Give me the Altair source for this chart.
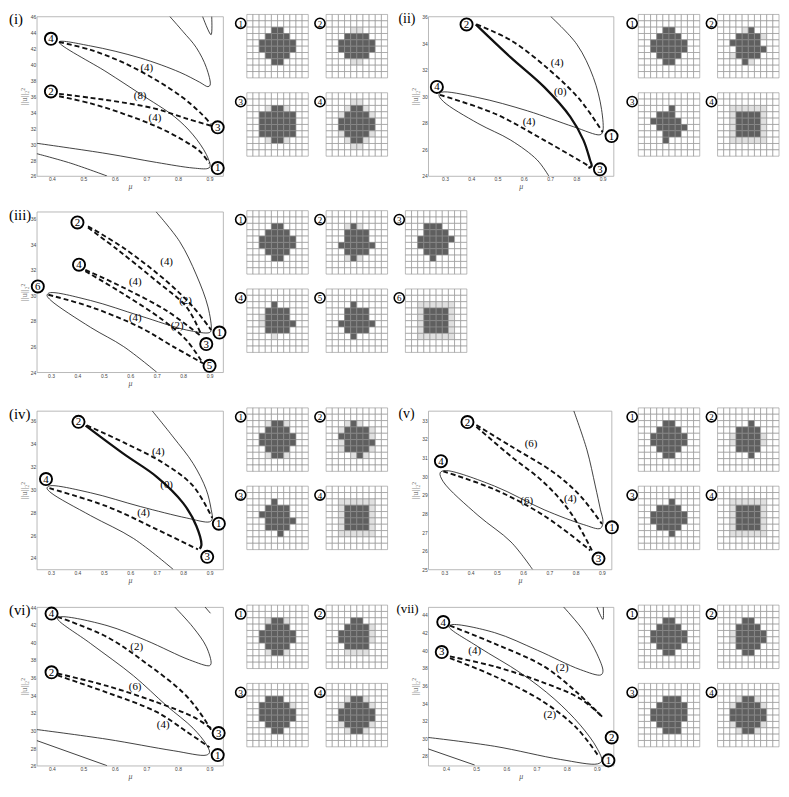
import altair as alt
import pandas as pd

# ------------------------------------------------------------------ data
# panel (i)
I_XDOM = [0.352, 0.943]
I_YDOM = [26, 46]
I_XT = [0.4, 0.5, 0.6, 0.7, 0.8, 0.9]
I_YT = [26, 28, 30, 32, 34, 36, 38, 40, 42, 44, 46]
I_S1 = [(0.774, 46), (0.816, 44.1), (0.858, 42.1), (0.89, 39.6), (0.902, 37.4), (0.895, 37.2),
        (0.869, 37.75), (0.806, 39.0), (0.68, 40.8), (0.523, 42.3), (0.423, 42.8), (0.575, 39.0),
        (0.68, 36.3), (0.79, 33.4), (0.848, 31.15), (0.89, 28.7), (0.902, 27.2), (0.895, 26.95),
        (0.848, 27.0), (0.732, 27.7), (0.575, 28.8), (0.352, 30.1)]
I_S2 = [(0.878, 46), (0.905, 43.7), (0.907, 46)]
I_S3 = [(0.352, 28.8), (0.46, 27.6), (0.575, 26)]
I_D1 = [(0.423, 42.8), (0.523, 41.8), (0.627, 40.2), (0.732, 38.0), (0.816, 35.8), (0.869, 34.0), (0.905, 32.5)]
I_D2 = [(0.423, 36.3), (0.523, 35.8), (0.627, 35.2), (0.732, 34.4), (0.827, 33.2), (0.905, 32.3)]
I_D3 = [(0.423, 36.0), (0.523, 35.1), (0.627, 33.8), (0.732, 32.2), (0.816, 30.5), (0.869, 29.1), (0.9, 27.6)]
I_LAB = [("(4)", 0.701, 39.2), ("(8)", 0.68, 35.6), ("(4)", 0.727, 32.9)]
I_NODES = [("1", 0.926, 27.0), ("2", 0.397, 36.6), ("3", 0.926, 32.1), ("4", 0.397, 43.2)]

# panel (ii)
II_XDOM = [0.236, 0.9415]
II_YDOM = [24, 36]
II_XT = [0.3, 0.4, 0.5, 0.6, 0.7, 0.8, 0.9]
II_YT = [24, 26, 28, 30, 32, 34, 36]
II_S1 = [(0.702, 36), (0.802, 33.9), (0.865, 31.4), (0.896, 29.0), (0.9, 27.3), (0.89, 27.1),
         (0.79, 27.7), (0.614, 28.9), (0.425, 29.9), (0.287, 30.3), (0.277, 30.1), (0.294, 29.6),
         (0.425, 27.96), (0.55, 26.7), (0.651, 25.2), (0.695, 24)]
II_B1 = [(0.417, 35.4), (0.551, 32.9), (0.677, 30.7), (0.777, 28.45), (0.827, 26.7), (0.852, 25.2),
         (0.858, 24.75), (0.846, 24.6)]
II_D1 = [(0.42, 35.4), (0.551, 34.2), (0.702, 31.9), (0.815, 29.7), (0.9, 27.3)]
II_D2 = [(0.281, 30.1), (0.488, 28.7), (0.677, 26.7), (0.852, 24.7)]
II_LAB = [("(4)", 0.727, 32.3), ("(0)", 0.739, 30.1), ("(4)", 0.62, 27.8)]
II_NODES = [("1", 0.934, 27.0), ("2", 0.382, 35.4), ("3", 0.89, 24.5), ("4", 0.269, 30.7)]

# panel (iii)
III_XDOM = [0.246, 0.951]
III_YDOM = [24, 36.54]
III_XT = [0.3, 0.4, 0.5, 0.6, 0.7, 0.8, 0.9]
III_YT = [24, 26, 28, 30, 32, 34, 36]
III_S1 = [(0.697, 36.54), (0.787, 34.2), (0.85, 31.6), (0.894, 29.1), (0.906, 27.3), (0.9, 27.1),
          (0.8125, 27.3), (0.6375, 28.4), (0.45, 29.6), (0.294, 30.2), (0.285, 30.0), (0.3, 29.6),
          (0.45, 27.5), (0.575, 26.0), (0.7, 24)]
III_D1 = [(0.44, 35.4), (0.575, 33.7), (0.7375, 31.1), (0.8375, 29.1), (0.906, 27.3)]
III_D2 = [(0.44, 35.3), (0.55, 33.6), (0.7, 31.1), (0.8125, 29.1), (0.869, 26.9)]
III_D3 = [(0.43, 32.0), (0.575, 30.6), (0.7375, 28.8), (0.869, 26.8)]
III_D4 = [(0.43, 31.9), (0.575, 30.1), (0.725, 28.05), (0.8125, 26.5), (0.875, 24.7)]
III_D5 = [(0.29, 30.05), (0.45, 29.1), (0.6375, 27.5), (0.7625, 26.0), (0.875, 24.7)]
III_LAB = [("(4)", 0.7375, 32.4), ("(2)", 0.809, 29.3), ("(4)", 0.619, 30.8), ("(2)", 0.7775, 27.4),
           ("(4)", 0.619, 28.0)]
III_NODES = [("1", 0.9375, 27.1), ("2", 0.4, 35.7), ("3", 0.8875, 26.2), ("4", 0.406, 32.4),
             ("5", 0.9, 24.5), ("6", 0.25, 30.7)]

# panel (iv)
IV_XDOM = [0.246, 0.951]
IV_YDOM = [23, 36.86]
IV_XT = [0.3, 0.4, 0.5, 0.6, 0.7, 0.8, 0.9]
IV_YT = [24, 26, 28, 30, 32, 34, 36]
IV_S1 = [(0.683, 36.86), (0.7625, 34.57), (0.8375, 32.27), (0.8875, 29.97), (0.906, 28.25), (0.91, 27.4),
         (0.9, 27.16), (0.8125, 27.5), (0.6375, 28.5), (0.45, 29.7), (0.294, 30.3), (0.285, 30.1),
         (0.3, 29.7), (0.45, 27.7), (0.6125, 25.7), (0.7625, 23)]
IV_B1 = [(0.431, 35.57), (0.575, 33.1), (0.7, 31.1), (0.8, 28.8), (0.85, 26.8), (0.869, 25.1), (0.8625, 24.8)]
IV_D1 = [(0.435, 35.6), (0.575, 34.1), (0.725, 32.3), (0.8375, 30.3), (0.91, 27.5)]
IV_D2 = [(0.294, 30.1), (0.5125, 28.5), (0.7, 26.5), (0.856, 24.75)]
IV_LAB = [("(4)", 0.706, 33.0), ("(0)", 0.7375, 30.1), ("(4)", 0.65, 27.7)]
IV_NODES = [("1", 0.935, 27.0), ("2", 0.404, 35.9), ("3", 0.891, 24.1), ("4", 0.281, 30.9)]

# panel (v)
V_XDOM = [0.2385, 0.9367]
V_YDOM = [25, 33.5]
V_XT = [0.3, 0.4, 0.5, 0.6, 0.7, 0.8, 0.9]
V_YT = [25, 26, 27, 28, 29, 30, 31, 32, 33]
V_S1 = [(0.793, 33.5), (0.843, 31.41), (0.875, 29.47), (0.894, 28.23), (0.904, 27.53), (0.894, 27.2),
        (0.831, 27.4), (0.68, 28.2), (0.491, 29.47), (0.303, 30.3), (0.284, 30.18), (0.296, 29.7),
        (0.428, 27.9), (0.554, 26.47), (0.636, 25)]
V_D1 = [(0.422, 32.74), (0.554, 31.6), (0.718, 30.18), (0.818, 28.94), (0.9, 27.44)]
V_D2 = [(0.422, 32.65), (0.554, 31.06), (0.68, 29.65), (0.78, 28.06), (0.862, 26.02)]
V_D3 = [(0.296, 30.26), (0.491, 29.29), (0.68, 27.88), (0.856, 26.02)]
V_LAB = [("(6)", 0.63, 31.55), ("(4)", 0.78, 28.59), ("(6)", 0.614, 28.53)]
V_NODES = [("1", 0.938, 27.26), ("2", 0.388, 32.9), ("3", 0.887, 25.58), ("4", 0.287, 30.8)]

# panel (vi)
VI_XDOM = [0.352, 0.943]
VI_YDOM = [26, 44]
VI_XT = [0.4, 0.5, 0.6, 0.7, 0.8, 0.9]
VI_YT = [26, 28, 30, 32, 34, 36, 38, 40, 42, 44]
VI_S1 = [(0.79, 44), (0.848, 41.7), (0.89, 39.5), (0.905, 37.6), (0.9, 37.35), (0.837, 38.0),
         (0.7, 40.2), (0.575, 41.9), (0.428, 42.9), (0.418, 42.7), (0.523, 39.86), (0.659, 36.2),
         (0.764, 32.8), (0.848, 30.25), (0.89, 28.4), (0.9, 27.5), (0.89, 27.2), (0.785, 27.7),
         (0.575, 29.0), (0.352, 30.1)]
VI_S2 = [(0.886, 44.0), (0.903, 43.3)]
VI_S3 = [(0.352, 28.85), (0.575, 26)]
VI_D1 = [(0.418, 42.9), (0.575, 40.6), (0.7, 37.6), (0.816, 34.3), (0.868, 32.1), (0.905, 30.07)]
VI_D2 = [(0.418, 36.46), (0.575, 35.05), (0.732, 33.2), (0.848, 31.54), (0.905, 30.25)]
VI_D3 = [(0.418, 36.24), (0.575, 34.3), (0.732, 32.1), (0.826, 29.9), (0.9, 28.1)]
VI_LAB = [("(2)", 0.669, 39.1), ("(6)", 0.664, 34.6), ("(4)", 0.753, 30.3)]
VI_NODES = [("1", 0.926, 27.2), ("2", 0.399, 36.6), ("3", 0.929, 29.7), ("4", 0.399, 43.26)]

# panel (vii)
VII_XDOM = [0.341, 0.955]
VII_YDOM = [26.9, 44.9]
VII_XT = [0.4, 0.5, 0.6, 0.7, 0.8, 0.9]
VII_YT = [28, 30, 32, 34, 36, 38, 40, 42, 44]
VII_S1 = [(0.79, 44.9), (0.856, 42.2), (0.9, 39.6), (0.92, 37.6), (0.913, 37.2), (0.845, 37.8),
          (0.703, 40.0), (0.561, 42.0), (0.419, 42.9), (0.41, 42.67), (0.506, 40.4), (0.648, 37.4),
          (0.758, 34.5), (0.845, 31.5), (0.9, 28.9), (0.916, 27.45), (0.902, 27.1), (0.78, 27.6),
          (0.561, 29.1), (0.341, 30.1)]
VII_S2 = [(0.9, 44.9), (0.92, 43.5), (0.921, 44.9)]
VII_S3 = [(0.341, 28.8), (0.495, 26.97)]
VII_D1 = [(0.413, 42.8), (0.561, 40.75), (0.725, 38.16), (0.834, 35.2), (0.922, 32.3)]
VII_D2 = [(0.413, 39.3), (0.561, 38.16), (0.725, 36.3), (0.845, 34.5), (0.916, 32.5)]
VII_D3 = [(0.413, 39.1), (0.561, 37.05), (0.725, 34.1), (0.834, 31.14), (0.905, 28.0)]
VII_LAB = [("(2)", 0.785, 37.7), ("(4)", 0.495, 39.6), ("(2)", 0.744, 32.3)]
VII_NODES = [("1", 0.938, 27.5), ("2", 0.949, 30.1), ("3", 0.386, 39.8), ("4", 0.391, 43.2)]

# pixel patterns ('.' empty, 'l' light, 'D' dark)
E = ".........."
OCT = [E, E, "....DD....", "...DDDD...", "..DDDDDD..", "..DDDDDD..", "...DDDD...", "....DD....", E, E]
SQ = [E, E, "..llllll..", "..lDDDDl..", "..lDDDDl..", "..lDDDDl..", "..lDDDDl..", "..llllll..", E, E]
I_G = [OCT,
       [E, E, "....ll....", "...DDDD...", "..DDDDDD..", "..DDDDDD..", "...DDDD...", "....ll....", E, E],
       [E, E, "...lDDl...", "..DDDDDD..", "..DDDDDD..", "..DDDDDD..", "..DDDDDD..", "...lDDl...", E, E],
       [E, "....ll....", "...lDDl...", "..lDDDDl..", "..DDDDDD..", "..DDDDDD..", "..lDDDDl..", "...lDDl...", "....ll....", E]]
II_G = [OCT,
        [E, E, "....lD....", "...DDDDl..", "..DDDDD...", "...DDDDD..", "..lDDDD...", "....Dl....", E, E],
        [E, E, ".....D....", "...DDD....", "..DDDDD...", "...DDDDD..", "....DDD...", "....D.....", E, E],
        SQ]
III_G = [OCT,
         [E, E, "...lDl....", "...DDDD...", "...DDDD...", "..DDDDDD..", "...DDDD...", "...lDl....", E, E],
         [E, E, "...DDD....", "...DDDD...", "..DDDDDD..", "..DDDDD...", "...DDDD...", "....D.....", E, E],
         [E, E, "....D.....", "...DDDD...", "..lDDDD...", "..lDDDDD..", "...DDDD...", "....l.....", E, E],
         [E, E, "....D.....", "...DDDD...", "...DDDD...", "..DDDDDD..", "...DDDD...", "....D.....", E, E],
         SQ]
IV_G = [[E, E, "...lDDl...", "...DDDD...", "..DDDDDD..", "..DDDDDD..", "...DDDD...", "...lDDl...", E, E],
        [E, E, "...lDl....", "..lDDDDl..", "..DDDDDl..", "..lDDDDD..", "..lDDDDl..", "....lDl...", E, E],
        [E, E, "....D.....", "...DDDD...", "..DDDDD...", "...DDDDD..", "...DDDD...", ".....D....", E, E],
        SQ]
V_G = [OCT,
       [E, E, ".....D....", "...DDDD...", "..lDDDDl..", "..lDDDDl..", "...DDDD...", ".....D....", E, E],
       [E, E, ".....D....", "...DDDD...", "..DDDDDD..", "..DDDDDD..", "...DDDD...", ".....D....", E, E],
       SQ]
VI_G = [[E, E, "...lDDl...", "...DDDD...", "..DDDDDD..", "..DDDDDD..", "...DDDD...", "...lDDl...", E, E],
        [E, E, "....DD....", "...DDDDl..", "..DDDDDl..", "..DDDDDl..", "...DDDD...", "...llll...", E, E],
        [E, E, "...DDD....", "..DDDDDl..", "..DDDDDD..", "..DDDDDD..", "...DDDD...", "....DD....", E, E],
        [E, E, "...lDDl...", "..lDDDDl..", "..DDDDDD..", "..DDDDDD..", "..lDDDDl..", "...lDDl...", E, E]]
VII_G = [OCT,
         [E, E, "....DD....", "...DDDD...", "..lDDDDD..", "..lDDDDD..", "...DDDD...", "....DD....", E, E],
         [E, E, "....DDD...", "...DDDDD..", "..DDDDDD..", "..DDDDDD..", "...DDDD...", "....DDD...", E, E],
         [E, E, "...lDDl...", "..lDDDDl..", "..DDDDDD..", "..DDDDDD..", "..lDDDDl..", "...lDDl...", E, E]]

# ------------------------------------------------------------------ layout constants
CW, CH = 6.2, 6.4          # cell size in px
PX, PY = 80 / CW, 79 / CH  # grid period in cells
SERIF = "Liberation Serif"
SANS = "Liberation Sans"


def curve_df(curves):
    rows = []
    for cid, pts in enumerate(curves):
        for i, (m, u) in enumerate(pts):
            rows.append({"c": cid, "i": i, "mu": m, "u": u})
    return pd.DataFrame(rows)


def make_plot(title, tdx, tsize, xdom, ydom, xt, yt, solids, bolds, dashes, labels, nodes, w, h):
    xs = alt.Scale(domain=xdom, nice=False, zero=False)
    ys = alt.Scale(domain=ydom, nice=False, zero=False)
    xax = alt.Axis(values=xt, format=".1f", title="μ", ticks=False, domain=False, grid=False,
                   labelFontSize=5, labelFont=SANS, labelColor="#444", labelPadding=1,
                   titleFont=SERIF, titleFontSize=8, titleFontStyle="italic", titleFontWeight="normal",
                   titleColor="#555", titlePadding=1)
    yax = alt.Axis(values=yt, format="d", title="||u||₂²", ticks=False, domain=False, grid=False,
                   labelFontSize=5, labelFont=SANS, labelColor="#444", labelPadding=1,
                   titleFont=SERIF, titleFontSize=9, titleFontWeight="normal",
                   titleColor="#777", titlePadding=2)
    X = alt.X("mu:Q", scale=xs, axis=xax)
    Y = alt.Y("u:Q", scale=ys, axis=yax)
    layers = []
    for curves, sw, dash in [(solids, 0.8, None), (bolds, 2.3, None), (dashes, 1.9, [5, 3])]:
        if not curves:
            continue
        kw = dict(color="#111111", strokeWidth=sw, interpolate="catmull-rom", clip=True)
        if dash:
            kw["strokeDash"] = dash
        layers.append(alt.Chart(curve_df(curves)).mark_line(**kw).encode(
            x=X, y=Y, detail="c:N", order="i:Q"))
    ldf = pd.DataFrame([{"t": t, "mu": m, "u": u} for t, m, u in labels])
    layers.append(alt.Chart(ldf).mark_text(font=SERIF, fontSize=11, color="black", dy=-3).encode(
        x=X, y=Y, text="t:N"))
    ndf = pd.DataFrame([{"t": t, "mu": m, "u": u} for t, m, u in nodes])
    layers.append(alt.Chart(ndf).mark_circle(size=150, fill="white", stroke="black", strokeWidth=1.9,
                                             opacity=1, fillOpacity=1).encode(x=X, y=Y))
    layers.append(alt.Chart(ndf).mark_text(font=SERIF, fontSize=11, color="black", baseline="middle",
                                           dy=0.5).encode(x=X, y=Y, text="t:N"))
    tdf = pd.DataFrame({"t": [title]})
    layers.append(alt.Chart(tdf).mark_text(font=SERIF, fontSize=tsize, align="left", baseline="top",
                                           color="black").encode(
        x=alt.value(tdx), y=alt.value(-4), text="t:N"))
    return alt.layer(*layers).properties(
        width=w, height=h, view=alt.ViewBackground(stroke="#a6a6a6", strokeWidth=0.8))


def make_grids(patterns, ncols, w, h, left_px, top_px):
    cells, marks = [], []
    for k, pat in enumerate(patterns):
        gc, gr = k % ncols, k // ncols
        ox, oy = gc * PX, gr * PY
        for i, line in enumerate(pat):
            for j, ch in enumerate(line):
                cells.append({"x0": ox + j, "x1": ox + j + 1, "y0": oy + i, "y1": oy + i + 1, "v": ch})
        marks.append({"t": str(k + 1), "x": ox - 1.0, "y": oy + 1.4})
    xlo = -left_px / CW
    ylo = -top_px / CH
    xs = alt.Scale(domain=[xlo, xlo + w / CW], nice=False, zero=False)
    ys = alt.Scale(domain=[ylo, ylo + h / CH], nice=False, zero=False, reverse=True)
    rect = alt.Chart(pd.DataFrame(cells)).mark_rect(stroke="#8c8c8c", strokeWidth=0.6).encode(
        x=alt.X("x0:Q", scale=xs, axis=None), x2="x1",
        y=alt.Y("y0:Q", scale=ys, axis=None), y2="y1",
        color=alt.Color("v:N", scale=alt.Scale(domain=[".", "l", "D"],
                                               range=["#ffffff", "#e0e0e0", "#5f5f5f"]), legend=None))
    mdf = pd.DataFrame(marks)
    circ = alt.Chart(mdf).mark_circle(size=105, fill="white", stroke="black", strokeWidth=1.6,
                                      opacity=1, fillOpacity=1).encode(
        x=alt.X("x:Q", scale=xs, axis=None), y=alt.Y("y:Q", scale=ys, axis=None))
    txt = alt.Chart(mdf).mark_text(font=SERIF, fontSize=9, baseline="middle", dy=0.5,
                                   color="black").encode(
        x=alt.X("x:Q", scale=xs, axis=None), y=alt.Y("y:Q", scale=ys, axis=None), text="t:N")
    return alt.layer(rect, circ, txt).properties(width=w, height=h)


def dummy(w, h):
    return alt.Chart(pd.DataFrame({"a": [0]})).mark_point(opacity=0).properties(width=w, height=h)


WA, WG, WB, WG2 = 188, 207, 187, 168
R1, R2, R3, R4 = 197, 201, 198, 160

p1 = make_plot("(i)", -28, 15, I_XDOM, I_YDOM, I_XT, I_YT, [I_S1, I_S2, I_S3], [], [I_D1, I_D2, I_D3],
               I_LAB, I_NODES, WA, 161)
g1 = make_grids(I_G, 2, WG, R1, 24, -2)
p2 = make_plot("(ii)", -30, 14, II_XDOM, II_YDOM, II_XT, II_YT, [II_S1], [II_B1], [II_D1, II_D2],
               II_LAB, II_NODES, WB, 161)
g2 = make_grids(II_G, 2, WG2, R1, 25, -2)

p3 = make_plot("(iii)", -28, 15, III_XDOM, III_YDOM, III_XT, III_YT, [III_S1], [],
               [III_D1, III_D2, III_D3, III_D4, III_D5], III_LAB, III_NODES, WA, 162)
g3 = make_grids(III_G, 3, WG, R2, 24, -1)

p4 = make_plot("(iv)", -28, 15, IV_XDOM, IV_YDOM, IV_XT, IV_YT, [IV_S1], [IV_B1], [IV_D1, IV_D2],
               IV_LAB, IV_NODES, WA, 160)
g4 = make_grids(IV_G, 2, WG, R3, 24, -3)
p5 = make_plot("(v)", -30, 14, V_XDOM, V_YDOM, V_XT, V_YT, [V_S1], [], [V_D1, V_D2, V_D3],
               V_LAB, V_NODES, 185, 160)
g5 = make_grids(V_G, 2, WG2, R3, 25, -3)

p6 = make_plot("(vi)", -28, 15, VI_XDOM, VI_YDOM, VI_XT, VI_YT, [VI_S1, VI_S2, VI_S3], [],
               [VI_D1, VI_D2, VI_D3], VI_LAB, VI_NODES, WA, 160)
g6 = make_grids(VI_G, 2, WG, R4, 24, -2)
p7 = make_plot("(vii)", -32, 13, VII_XDOM, VII_YDOM, VII_XT, VII_YT, [VII_S1, VII_S2, VII_S3], [],
               [VII_D1, VII_D2, VII_D3], VII_LAB, VII_NODES, WB, 160)
g7 = make_grids(VII_G, 2, WG2, R4, 25, -2)

charts = [p1, g1, p2, g2,
          p3, g3, dummy(WB, 10), dummy(WG2, 10),
          p4, g4, p5, g5,
          p6, g6, p7, g7]

chart = alt.concat(*charts, columns=4, spacing=0, bounds="flush", align="each").properties(
    padding=0).configure_view(stroke="transparent")

chart.save("out.html", embed_options={"renderer": "svg", "actions": False})
